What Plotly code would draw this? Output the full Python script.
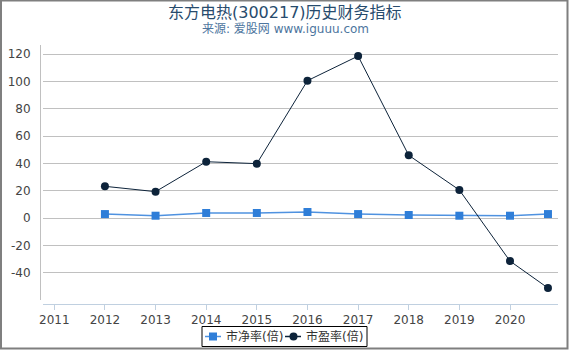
import plotly.graph_objects as go

years = [2012, 2013, 2014, 2015, 2016, 2017, 2018, 2019, 2020, 2020.75]
pb = [2.9, 1.7, 3.7, 3.7, 4.4, 2.9, 2.2, 1.7, 1.7, 2.9]
pe = [23.2, 19.3, 41.2, 39.8, 100.5, 118.5, 45.9, 20.5, -31.5, -51.2]
x_ticks = list(range(2011, 2021))
y_ticks = [-40, -20, 0, 20, 40, 60, 80, 100, 120]
series_names = ["市净率(倍)", "市盈率(倍)"]
pb_color, pe_color = "#2f7ed8", "#0d233a"

W, H = 570, 350
L, R, T, B = 43, 12, 45, 46
pw, ph = W - L - R, H - T - B

def px(x):
    return (x - L) / pw

def py(y):
    return (H - B - y) / ph

font = "DejaVu Sans, Noto Sans CJK SC, sans-serif"

fig = go.Figure()
fig.add_trace(go.Scatter(
    x=years, y=pb, name=series_names[0], mode="lines+markers",
    line=dict(color="#4f92e0", width=1.5),
    marker=dict(symbol="square", size=8, color=pb_color),
    cliponaxis=False,
))
fig.add_trace(go.Scatter(
    x=years, y=pe, name=series_names[1], mode="lines+markers",
    line=dict(color=pe_color, width=1),
    marker=dict(symbol="circle", size=8, color=pe_color),
    cliponaxis=False,
))

shapes = [
    dict(type="line", xref="paper", yref="paper",
         x0=px(40.5), x1=px(40.5), y0=py(45), y1=py(300),
         line=dict(color="#c0c0c0", width=1)),
    dict(type="rect", xref="paper", yref="paper",
         x0=px(1), x1=px(567.5), y0=py(0.5), y1=py(348.5),
         line=dict(color="#7f7f7f", width=2)),
    # legend box
    dict(type="rect", xref="paper", yref="paper",
         x0=px(202), x1=px(367), y0=py(326.5), y1=py(346.5),
         line=dict(color="black", width=1), fillcolor="white"),
    # legend symbols
    dict(type="line", xref="paper", yref="paper",
         x0=px(205), x1=px(221), y0=py(336.5), y1=py(336.5),
         line=dict(color="#4f92e0", width=1.5)),
    dict(type="rect", xref="paper", yref="paper",
         x0=px(209), x1=px(217), y0=py(332.5), y1=py(340.5),
         line=dict(width=0), fillcolor=pb_color),
    dict(type="line", xref="paper", yref="paper",
         x0=px(285), x1=px(301), y0=py(336.5), y1=py(336.5),
         line=dict(color=pe_color, width=1.5)),
    dict(type="circle", xref="paper", yref="paper",
         x0=px(289.5), x1=px(297.5), y0=py(332.5), y1=py(340.5),
         line=dict(width=0), fillcolor=pe_color),
]

annotations = [
    dict(text="东方电热(300217)历史财务指标", xref="paper", yref="paper",
         x=px(285), y=py(12.5), xanchor="center", yanchor="middle",
         showarrow=False, font=dict(size=16, color="#274b6d", family=font)),
    dict(text="来源: 爱股网 www.iguuu.com", xref="paper", yref="paper",
         x=px(285), y=py(28.5), xanchor="center", yanchor="middle",
         showarrow=False, font=dict(size=12, color="#4d759e", family=font)),
    dict(text=series_names[0], xref="paper", yref="paper",
         x=px(224), y=py(336.5), xanchor="left", yanchor="middle",
         showarrow=False, font=dict(size=12, color="#333", family=font)),
    dict(text=series_names[1], xref="paper", yref="paper",
         x=px(304), y=py(336.5), xanchor="left", yanchor="middle",
         showarrow=False, font=dict(size=12, color="#333", family=font)),
]

fig.update_layout(
    width=W, height=H, autosize=False,
    margin=dict(l=L, r=R, t=T, b=B, autoexpand=False),
    paper_bgcolor="white", plot_bgcolor="white",
    font=dict(family=font, size=12, color="#444"),
    showlegend=False,
    xaxis=dict(
        range=[2010.777, 2020.948], tickvals=x_ticks,
        ticktext=[str(v) for v in x_ticks],
        showgrid=False, zeroline=False,
        showline=True, linecolor="#c0d0e0", linewidth=1,
        ticks="outside", ticklen=5, tickcolor="#c0d0e0",
        tickfont=dict(size=12, color="#444"),
    ),
    yaxis=dict(
        range=[-62.9, 126.6], tickvals=y_ticks,
        ticktext=[str(v) for v in y_ticks],
        showgrid=True, gridcolor="#c0c0c0", gridwidth=1,
        zeroline=False, showline=False,
        ticks="outside", ticklen=9, tickcolor="rgba(0,0,0,0)",
        tickfont=dict(size=12, color="#444"),
    ),
    shapes=shapes,
    annotations=annotations,
)

fig.write_html("out.html")
